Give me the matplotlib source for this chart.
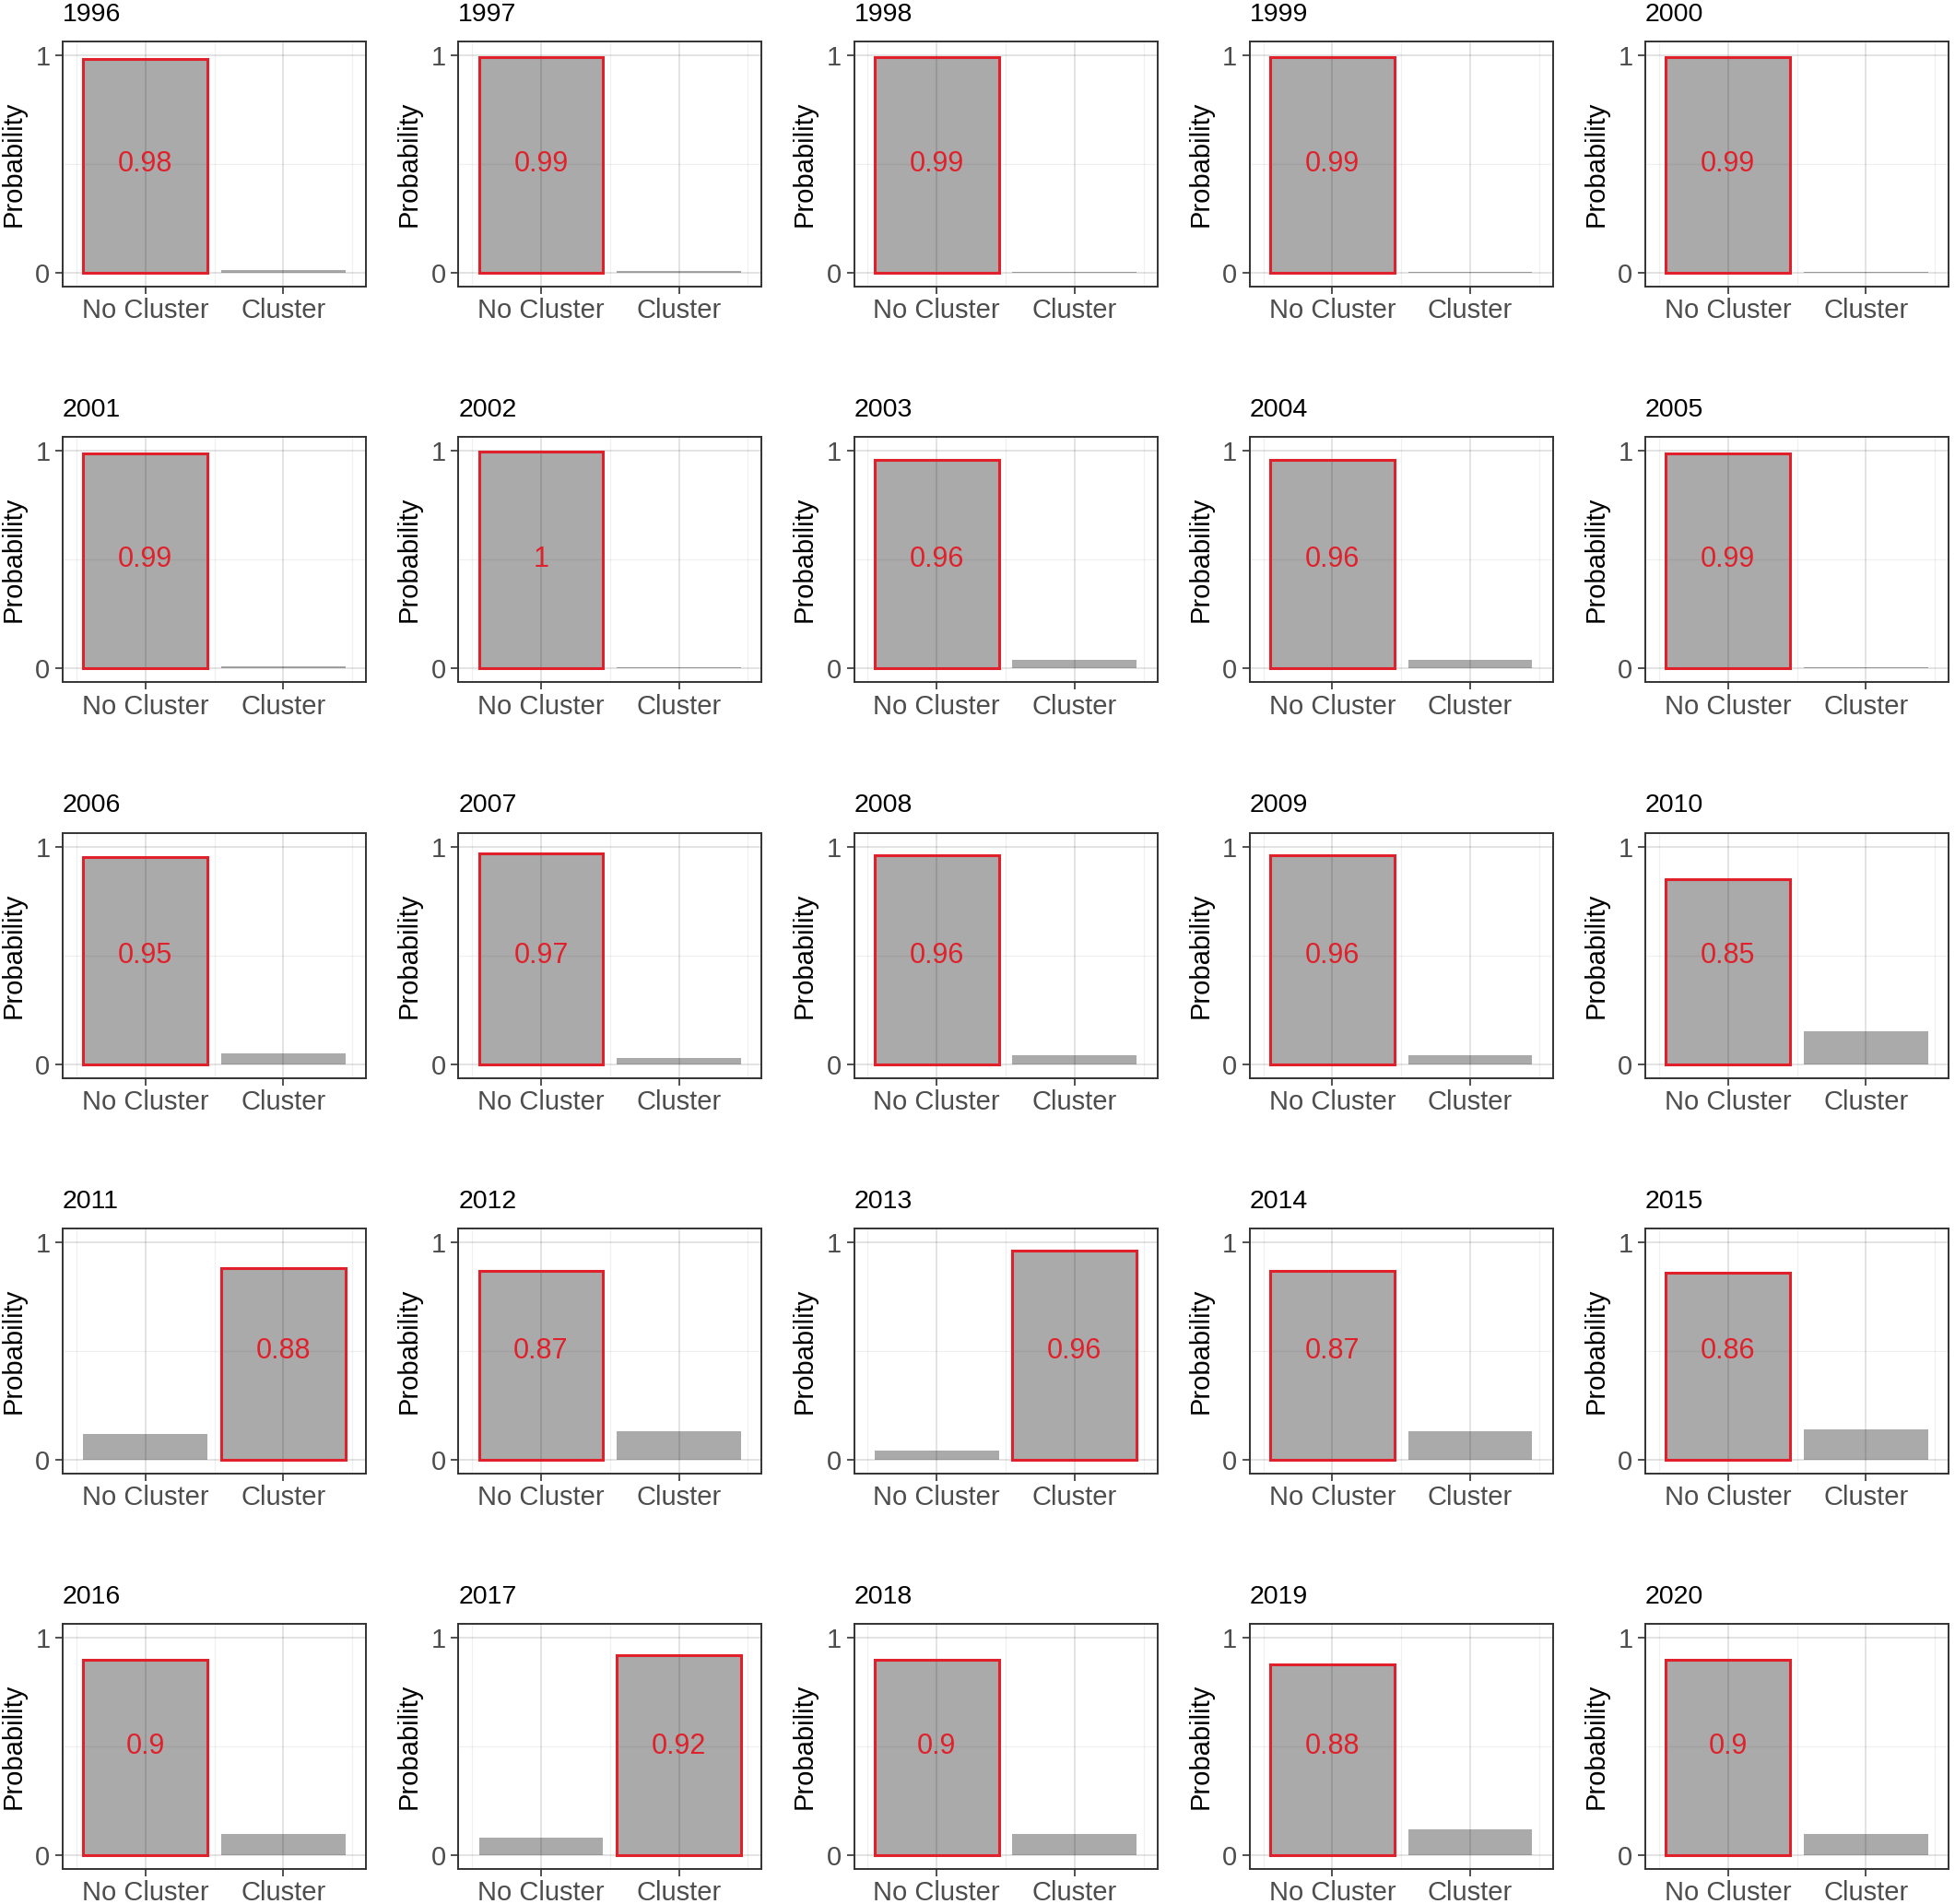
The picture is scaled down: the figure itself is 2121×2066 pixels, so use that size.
import matplotlib
matplotlib.use("Agg")
import matplotlib.pyplot as plt
from matplotlib.ticker import FixedLocator

plt.rcParams['font.family'] = ['Liberation Sans', 'DejaVu Sans']

years = [1996, 1997, 1998, 1999, 2000,
         2001, 2002, 2003, 2004, 2005,
         2006, 2007, 2008, 2009, 2010,
         2011, 2012, 2013, 2014, 2015,
         2016, 2017, 2018, 2019, 2020]
categories = ["No Cluster", "Cluster"]
no_cluster = [0.985, 0.99, 0.99, 0.99, 0.99,
              0.99, 0.996, 0.96, 0.96, 0.99,
              0.95, 0.97, 0.96, 0.96, 0.85,
              0.12, 0.87, 0.04, 0.87, 0.86,
              0.90, 0.08, 0.90, 0.88, 0.90]
cluster = [0.013, 0.008, 0.005, 0.004, 0.004,
           0.008, 0.004, 0.04, 0.04, 0.005,
           0.05, 0.03, 0.04, 0.04, 0.15,
           0.88, 0.13, 0.96, 0.13, 0.14,
           0.10, 0.92, 0.10, 0.12, 0.10]


def fmt(v):
    return f"{round(v, 2):g}"


W, H = 2121, 2066
fig = plt.figure(figsize=(W / 100, H / 100), dpi=100)

ax_w, ax_h = 329, 266
col_step, row_step = 429.25, 429.3
left0, top0 = 68, 45
pad_units = 0.0636
red = "#E0202A"

for i, yr in enumerate(years):
    r, c = divmod(i, 5)
    left = left0 + c * col_step
    top = top0 + r * row_step
    ax = fig.add_axes([left / W, (H - top - ax_h) / H, ax_w / W, ax_h / H])
    vals = [no_cluster[i], cluster[i]]
    xs = [1, 2]
    ax.bar(xs, vals, width=0.9, color="#AAAAAA", edgecolor="none", zorder=1)
    k = 0 if vals[0] >= vals[1] else 1
    ax.bar([xs[k]], [vals[k]], width=0.9, facecolor="none", edgecolor=red,
           linewidth=2.2, zorder=3)
    ax.text(xs[k], 0.5, fmt(vals[k]), color=red, fontsize=22,
            ha="center", va="center", zorder=4)

    ax.set_xlim(0.4, 2.6)
    ax.set_ylim(-pad_units, 1 + pad_units)
    ax.xaxis.set_major_locator(FixedLocator(xs))
    ax.set_xticklabels(categories)
    ax.yaxis.set_major_locator(FixedLocator([0, 1]))
    ax.set_yticklabels(["0", "1"])
    ax.xaxis.set_minor_locator(FixedLocator([0.5, 1.5, 2.5]))
    ax.yaxis.set_minor_locator(FixedLocator([0.5]))

    ax.set_axisbelow(False)
    ax.grid(which="major", color="black", alpha=0.12, linewidth=1.3, zorder=2)
    ax.grid(which="minor", color="black", alpha=0.06, linewidth=0.9, zorder=2)
    ax.tick_params(which="minor", length=0)
    ax.tick_params(which="major", length=5.8, width=1.2, color="#333333",
                   labelcolor="#4D4D4D", labelsize=21)
    ax.tick_params(axis="x", pad=3)
    ax.tick_params(axis="y", pad=4)
    for sp in ax.spines.values():
        sp.set_color("#333333")
        sp.set_linewidth(1.4)
        sp.set_zorder(5)

    ax.set_ylabel("Probability", fontsize=21, color="black", labelpad=7)
    ax.set_title(str(yr), loc="left", fontsize=20.5, color="black", pad=16)

fig.savefig("out.png", dpi=100, facecolor="white")
